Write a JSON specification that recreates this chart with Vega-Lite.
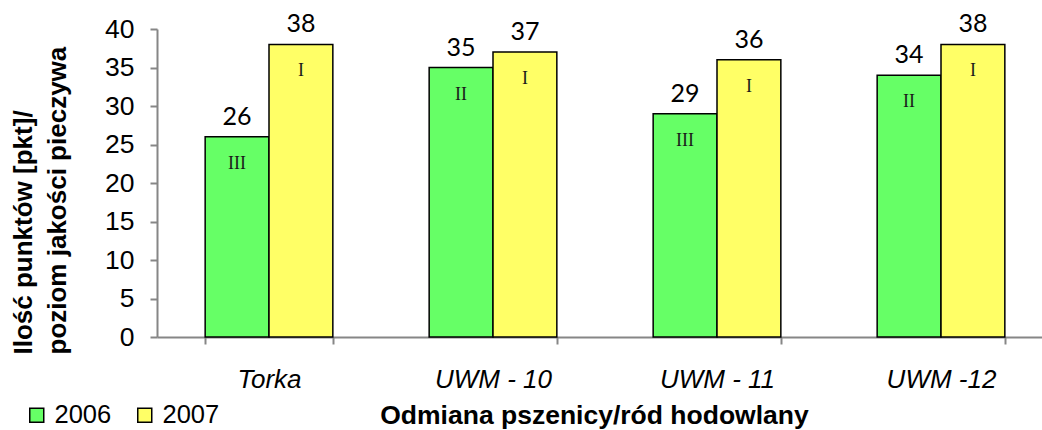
{
  "$schema": "https://vega.github.io/schema/vega-lite/v6.json",
  "autosize": {"type": "none"},
  "padding": {"left": 157, "top": 29, "right": 0, "bottom": 93},
  "width": 885,
  "height": 308,
  "background": "white",
  "config": {"view": {"stroke": null}},
  "data": {"values": [
    {"odmiana": "Torka", "rok": "2006", "pkt": 26, "klasa": "III"},
    {"odmiana": "Torka", "rok": "2007", "pkt": 38, "klasa": "I"},
    {"odmiana": "UWM - 10", "rok": "2006", "pkt": 35, "klasa": "II"},
    {"odmiana": "UWM - 10", "rok": "2007", "pkt": 37, "klasa": "I"},
    {"odmiana": "UWM - 11", "rok": "2006", "pkt": 29, "klasa": "III"},
    {"odmiana": "UWM - 11", "rok": "2007", "pkt": 36, "klasa": "I"},
    {"odmiana": "UWM -12", "rok": "2006", "pkt": 34, "klasa": "II"},
    {"odmiana": "UWM -12", "rok": "2007", "pkt": 38, "klasa": "I"}
  ]},
  "encoding": {
    "x": {
      "field": "odmiana", "type": "nominal", "sort": null,
      "scale": {"range": [0, 896], "paddingInner": 0.43, "paddingOuter": 0.215},
      "axis": {
        "title": "Odmiana pszenicy/ród hodowlany",
        "titleFont": "Liberation Sans", "titleFontSize": 26.5, "titleFontWeight": "bold", "titleColor": "black",
        "titleX": 437, "titleY": 86, "titleBaseline": "alphabetic", "titleAlign": "center", "titleAnchor": null,
        "labelFont": "Liberation Sans", "labelFontSize": 26, "labelFontStyle": "italic", "labelColor": "black",
        "labelAngle": 0, "labelBaseline": "alphabetic", "labelPadding": 43,
        "tickBand": "extent", "ticks": true, "tickSize": 7, "tickColor": "#868686", "tickWidth": 2,
        "domainColor": "#868686", "domainWidth": 2, "grid": false
      }
    },
    "xOffset": {"field": "rok", "type": "nominal"},
    "y": {
      "field": "pkt", "type": "quantitative",
      "scale": {"domain": [0, 40], "nice": false},
      "axis": {
        "values": [0, 5, 10, 15, 20, 25, 30, 35, 40],
        "title": ["Ilość punktów [pkt]/", "poziom jakości pieczywa"],
        "titleFont": "Liberation Sans", "titleFontSize": 26, "titleFontWeight": "bold", "titleColor": "black",
        "titleAngle": -90, "titleX": -126, "titleY": 325, "titleAlign": "left", "titleBaseline": "alphabetic",
        "titleLineHeight": 34, "titleAnchor": null,
        "labelFont": "Liberation Sans", "labelFontSize": 26.5, "labelColor": "black", "labelPadding": 16,
        "tickSize": 7, "tickColor": "#868686", "tickWidth": 2,
        "domainColor": "#868686", "domainWidth": 2, "grid": false
      }
    }
  },
  "layer": [
    {
      "mark": {"type": "bar", "stroke": "black", "strokeWidth": 1.5},
      "encoding": {
        "color": {
          "field": "rok", "type": "nominal",
          "scale": {"domain": ["2006", "2007"], "range": ["#66ff66", "#ffff66"]},
          "legend": {
            "title": null, "orient": "none", "direction": "horizontal",
            "legendX": -133, "legendY": 373,
            "symbolType": "square", "symbolSize": 196, "symbolStrokeColor": "black", "symbolStrokeWidth": 1.5,
            "labelFont": "Liberation Sans", "labelFontSize": 25.5, "labelColor": "black",
            "labelOffset": 5, "columnPadding": 20
          }
        }
      }
    },
    {
      "mark": {"type": "text", "font": "Lato", "fontSize": 25, "baseline": "alphabetic", "dy": -12, "color": "black"},
      "encoding": {"text": {"field": "pkt", "type": "quantitative"}}
    },
    {
      "mark": {"type": "text", "font": "Liberation Serif", "fontSize": 18, "baseline": "alphabetic", "dy": 32, "color": "#1a1a1a"},
      "encoding": {"text": {"field": "klasa", "type": "nominal"}}
    }
  ]
}
